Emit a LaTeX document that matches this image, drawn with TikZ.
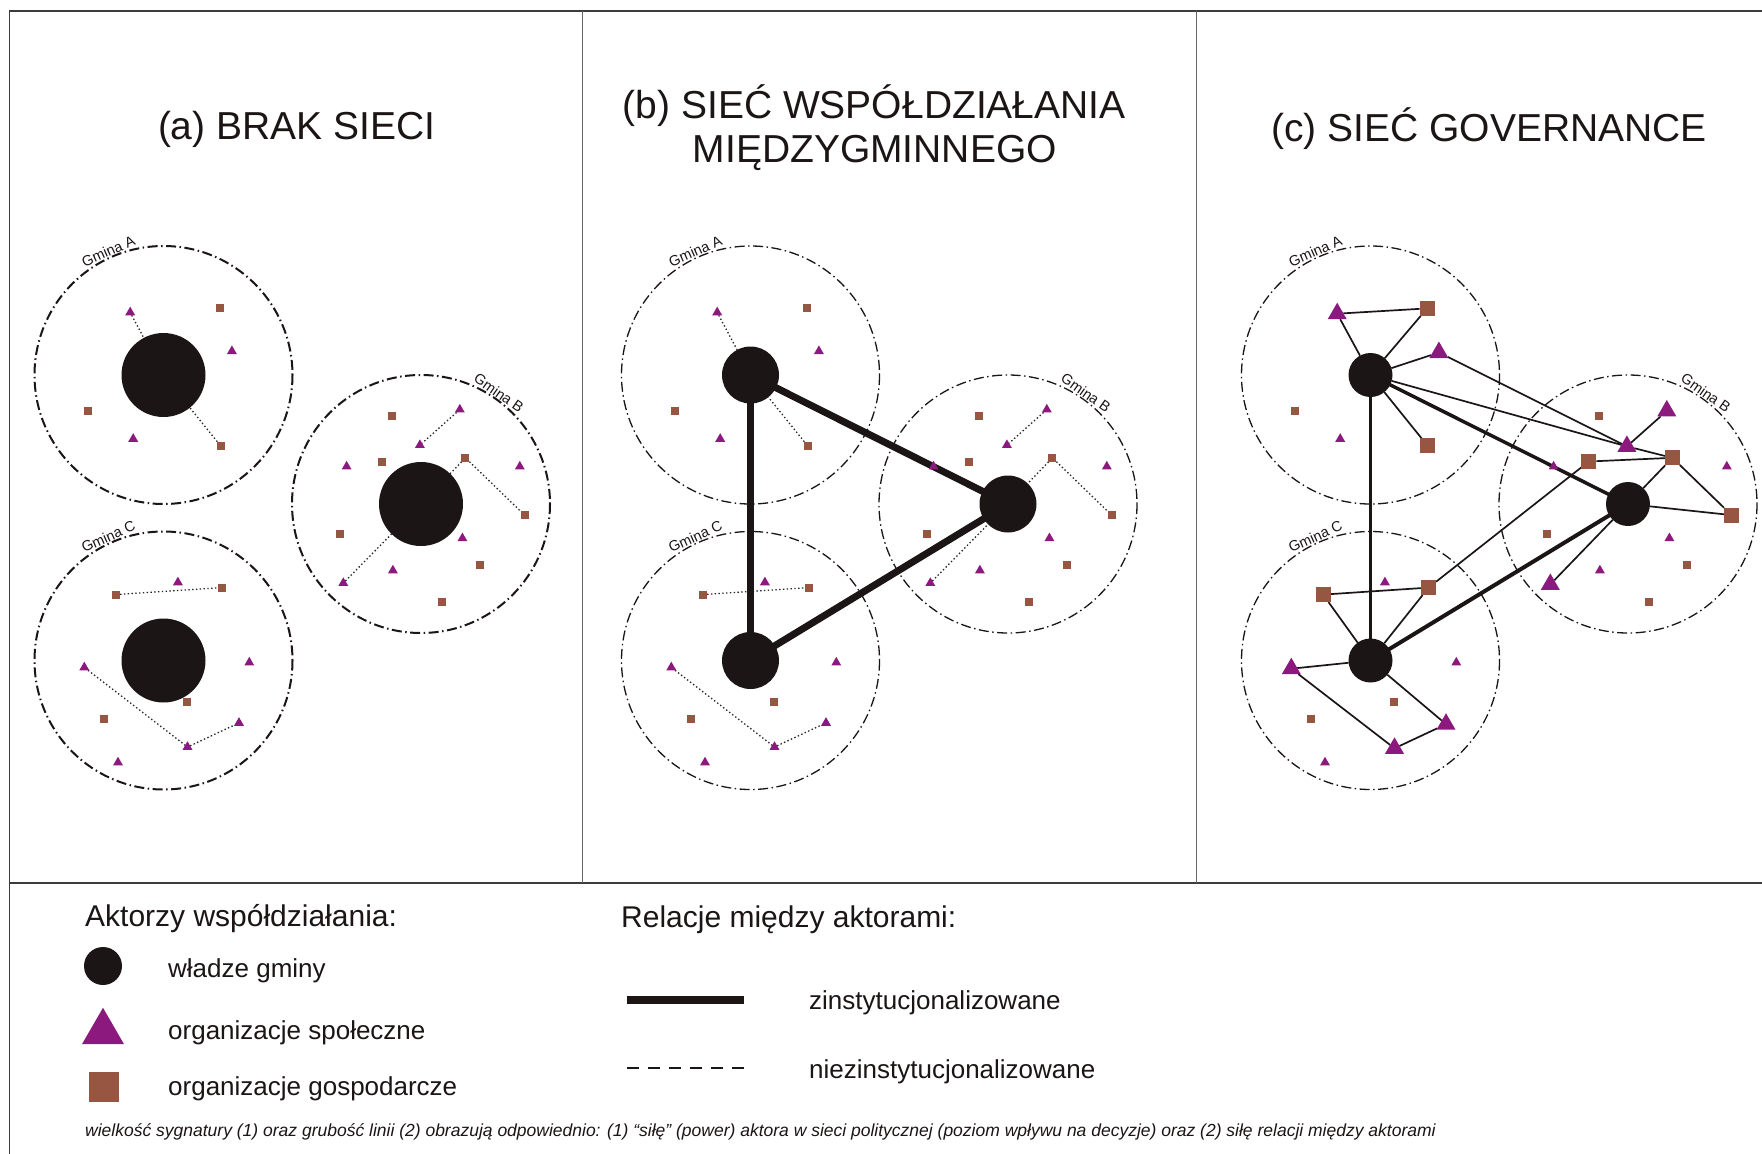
\documentclass[tikz,border=0pt]{standalone}
\usepackage{fontspec}
\setmainfont{Liberation Sans}
\usetikzlibrary{shapes.geometric,calc}

\definecolor{socorg}{RGB}{140,26,126}
\definecolor{ecoorg}{RGB}{150,86,66}
\definecolor{authority}{RGB}{28,21,21}
\definecolor{framegray}{RGB}{60,60,60}

\pgfdeclarelayer{bg}
\pgfsetlayers{bg,main}

\newcommand\gmfont{\fontsize{14.5}{15}\selectfont}
\newcommand\titlefont{\fontsize{39}{44}\selectfont}
\newcommand\headfont{\fontsize{30}{34}\selectfont}
\newcommand\itemfont{\fontsize{26}{30}\selectfont}
\newcommand\notefont{\fontsize{17.5}{20}\selectfont\itshape}

\tikzset{
  tribase/.style={regular polygon, regular polygon sides=3, fill=socorg, inner sep=0pt, outer sep=0pt},
  stri/.style={tribase, minimum size=11.5pt, yshift=-1.4pt},
  btri/.style={tribase, minimum size=22pt, yshift=-2.7pt},
  sqbase/.style={rectangle, fill=ecoorg, inner sep=0pt, outer sep=0pt},
  ssq/.style={sqbase, minimum size=8pt},
  bsq/.style={sqbase, minimum size=15pt},
  ktri/.style={stri},
  ksq/.style={ssq},
  disk/.style={circle, fill=authority, inner sep=0pt, outer sep=0pt},
  gmina/.style={line width=2pt, dash pattern=on 10pt off 3.5pt on 1.5pt off 3.5pt, color=authority},
  gmlabel/.style={font=\gmfont, inner sep=0pt, anchor=base, text=authority},
  dotrel/.style={line width=1.3pt, dash pattern=on 1.4pt off 2.4pt, color=black!85},
  instrel/.style={line width=7pt, color=authority},
  rel/.style={line width=1.7pt, color=authority},
  lbl/.style={inner sep=0pt, anchor=base west, text=authority},
}

% one panel: three municipalities with their actors
% #1 name prefix, #2 diameter of the authority disk, #3 width of the boundary line
\newcommand\gmpanel[3]{%
  \coordinate (#1A) at (163.5,375);
  \coordinate (#1B) at (421,504);
  \coordinate (#1C) at (163.5,660.5);
  \foreach \g in {A,B,C}{\draw[gmina, line width=#3] (#1\g) circle[radius=129];}
  \node[gmlabel, rotate=24] (#1lA) at ($(#1A)+(-114:130.5)$) {Gmina A};
  \node[gmlabel, rotate=-35] (#1lB) at ($(#1B)+(-55:130.5)$) {Gmina B};
  \node[gmlabel, rotate=24] (#1lC) at ($(#1C)+(-114:130.5)$) {Gmina C};
  \foreach \id/\k/\dx/\dy in {1/ktri/-33.3/-64.0, 2/ksq/56.6/-66.6, 3/ktri/68.4/-25.2,
      4/ssq/-75.5/35.9, 5/stri/-30.3/62.5, 6/ksq/57.0/70.7}
    {\node[\k] (#1A\id) at ($(#1A)+(\dx,\dy)$) {};}
  \foreach \id/\k/\dx/\dy in {1/ssq/-29.2/-88.4, 2/ktri/38.8/-95.8, 3/ktri/-1.1/-60.3,
      4/ksq/-39.2/-42.5, 5/stri/-74.4/-38.8, 6/ksq/44.4/-46.2, 7/stri/98.8/-38.8,
      8/ksq/103.6/11.1, 9/ssq/-80.7/30.3, 10/stri/41.4/32.9, 11/stri/-28.1/65.1,
      12/ssq/58.8/61.4, 13/ktri/-77.7/77.7, 14/ssq/20.7/98.0}
    {\node[\k] (#1B\id) at ($(#1B)+(\dx,\dy)$) {};}
  \foreach \id/\k/\dx/\dy in {1/stri/14.4/-79.5, 2/ksq/-47.4/-65.9, 3/ksq/58.1/-72.9,
      4/ktri/-79.2/5.5, 5/stri/85.8/0.7, 6/ssq/23.3/41.4, 7/ssq/-59.9/58.1,
      8/ktri/75.5/61.0, 9/ktri/24.0/85.1, 10/stri/-45.5/100.6}
    {\node[\k] (#1C\id) at ($(#1C)+(\dx,\dy)$) {};}
  \node[disk, minimum size=#2] (#1dA) at (#1A) {};
  \node[disk, minimum size=#2] (#1dB) at (#1B) {};
  \node[disk, minimum size=#2] (#1dC) at (#1C) {};
}

% informal ties shared by panels (a) and (b)
\newcommand\informal[1]{%
  \begin{pgfonlayer}{bg}
    \draw[dotrel] (#1A1) -- (#1dA);
    \draw[dotrel] (#1A6) -- (#1dA);
    \draw[dotrel] (#1B2) -- (#1B3);
    \draw[dotrel] (#1B6) -- (#1dB);
    \draw[dotrel] (#1B6) -- (#1B8);
    \draw[dotrel] (#1B13) -- (#1dB);
    \draw[dotrel] (#1C2) -- (#1C3);
    \draw[dotrel] (#1C4) -- (#1C9);
    \draw[dotrel] (#1C9) -- (#1C8);
  \end{pgfonlayer}
}

\begin{document}
\begin{tikzpicture}[x={(1pt,0pt)}, y={(0pt,-1pt)}]
\begin{pgfonlayer}{bg}
  \fill[white] (0,0) rectangle (1762,1154);
\end{pgfonlayer}
\useasboundingbox (0,0) rectangle (1762,1154);

% frame
\draw[line width=1.8pt, framegray] (1762,11) -- (9.5,11) -- (9.5,1154);
\draw[line width=2pt, framegray] (9.5,883) -- (1762,883);
\draw[line width=1pt, black!60] (582,11) -- (582,883);
\draw[line width=1pt, black!60] (1196,11) -- (1196,883);

% titles
\node[anchor=base, font=\titlefont, text=authority] (ta) at (296.7,139.5) {(a) BRAK SIECI};
\node[anchor=base, font=\titlefont, text=authority] (tb1) at (874.2,118.5) {(b) SIEĆ WSPÓŁDZIAŁANIA};
\node[anchor=base, font=\titlefont, text=authority] (tb2) at (874.7,162.4) {MIĘDZYGMINNEGO};
\node[anchor=base, font=\titlefont, text=authority] (tc) at (1489,141) {(c) SIEĆ GOVERNANCE};

% (a) no network
\begin{scope}
  \gmpanel{pa}{84pt}{2pt}
  \informal{pa}
\end{scope}

% (b) inter-municipal network
\begin{scope}[xshift=587pt]
  \gmpanel{pb}{57pt}{1.3pt}
  \informal{pb}
  \begin{pgfonlayer}{bg}
    \draw[instrel] (pbdA.center) -- (pbdB.center);
    \draw[instrel] (pbdB.center) -- (pbdC.center);
    \draw[instrel] (pbdC.center) -- (pbdA.center);
  \end{pgfonlayer}
\end{scope}

% (c) governance network
\begin{scope}[xshift=1207pt, ktri/.style={btri}, ksq/.style={bsq}]
  \gmpanel{pc}{44pt}{1.3pt}
  \begin{pgfonlayer}{bg}
    \draw[rel, line width=3.5pt] (pcdA.center) -- (pcdB.center);
    \draw[rel, line width=3pt] (pcdA.center) -- (pcdC.center);
    \draw[rel, line width=4pt] (pcdB.center) -- (pcdC.center);
    \draw[rel] (pcdA) -- (pcA1);
    \draw[rel] (pcA1) -- (pcA2);
    \draw[rel] (pcA2) -- (pcdA);
    \draw[rel] (pcdA) -- (pcA3);
    \draw[rel] (pcA3) -- (pcB3);
    \draw[rel] (pcdA) -- (pcB3);
    \draw[rel] (pcdA) -- (pcA6);
    \draw[rel] (pcB3) -- (pcB6);
    \draw[rel] (pcB3) -- (pcB2);
    \draw[rel] (pcB4) -- (pcB6);
    \draw[rel] (pcB6) -- (pcdB);
    \draw[rel] (pcB6) -- (pcB8);
    \draw[rel] (pcdB) -- (pcB8);
    \draw[rel] (pcdB) -- (pcB13);
    \draw[rel] (pcB4) -- (pcC3);
    \draw[rel] (pcC2) -- (pcC3);
    \draw[rel] (pcC2) -- (pcdC);
    \draw[rel] (pcC3) -- (pcdC);
    \draw[rel] (pcC4) -- (pcdC);
    \draw[rel] (pcC4) -- (pcC9);
    \draw[rel] (pcC9) -- (pcC8);
    \draw[rel] (pcC8) -- (pcdC);
  \end{pgfonlayer}
\end{scope}

% legend: actors
\node[lbl, font=\headfont] (lgh1) at (85,926) {Aktorzy współdziałania:};
\node[disk, minimum size=38pt] (lga) at (103,966) {};
\node[lbl, font=\itemfont] (lgat) at (168,977) {władze gminy};
\node[tribase, minimum size=48.5pt] (lgs) at (103,1032) {};
\node[lbl, font=\itemfont] (lgst) at (168,1039) {organizacje społeczne};
\node[sqbase, minimum size=30pt] (lge) at (104,1087) {};
\node[lbl, font=\itemfont] (lget) at (168,1095) {organizacje gospodarcze};

% legend: relations
\node[lbl, font=\headfont] (lgh2) at (621,927) {Relacje między aktorami:};
\coordinate (lgi1) at (627,1000);
\coordinate (lgi2) at (744,1000);
\draw[line width=8pt, authority] (lgi1) -- (lgi2);
\node[lbl, font=\itemfont] (lgit) at (809,1009) {zinstytucjonalizowane};
\coordinate (lgn1) at (627,1067.5);
\coordinate (lgn2) at (744,1067.5);
\draw[line width=2pt, authority, dash pattern=on 12pt off 9pt] (lgn1) -- (lgn2);
\node[lbl, font=\itemfont] (lgnt) at (809,1078) {niezinstytucjonalizowane};

% note
\node[lbl, font=\notefont] (note) at (85,1136) {wielkość sygnatury (1) oraz grubość linii (2) obrazują odpowiednio: (1) “siłę” (power) aktora w sieci politycznej (poziom wpływu na decyzje) oraz (2) siłę relacji między aktorami};
\end{tikzpicture}
\end{document}
